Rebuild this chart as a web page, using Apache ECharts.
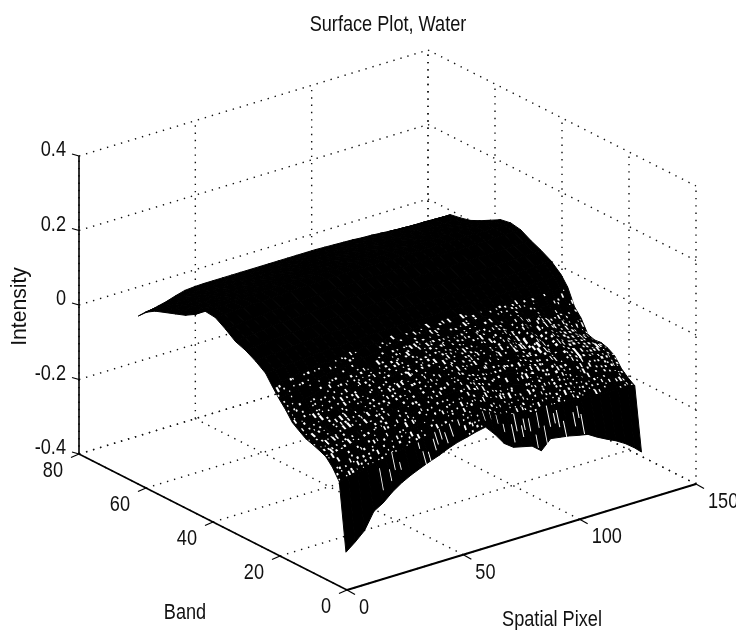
<!DOCTYPE html>
<html><head><meta charset="utf-8">
<style>html,body{margin:0;padding:0;background:#fff}#c{width:736px;height:630px}</style>
<script src="https://cdn.jsdelivr.net/npm/echarts@6/dist/echarts.min.js"></script>
</head><body><div id="c"></div>
<script>
// ---- chart values ----
const titleText = 'Surface Plot, Water';
const pixelTicks = [0, 50, 100, 150];
const bandTicks = [0, 20, 40, 60, 80];
const intensityTicks = [-0.4, -0.2, 0, 0.2, 0.4];
const pixels = [1,5,9,13,17,21,25,29,33,37,41,45,49,53,57,61,65,69,73,77,81,85,89,93,97,101,105,109,113,117,121,125,128];
const bands = [1,3,5,7,9,11,13,15,17,19,21,23,25,28,31,34,37,40,43,46,49,52,55,58,61,63];
const band01 = [-.305,-.285,-.262,-.218,-.203,-.181,-.164,-.151,-.140,-.130,-.121,-.110,-.101,-.095,-.088,-.083,-.110,-.142,-.160,-.166,-.172,-.192,-.167,-.171,-.175,-.181,-.186,-.201,-.214,-.226,-.241,-.260,-.277];
const band03 = [-.125,-.121,-.116,-.109,-.105,-.098,-.094,-.087,-.082,-.075,-.071,-.063,-.060,-.052,-.049,-.045,-.058,-.072,-.083,-.088,-.091,-.098,-.089,-.094,-.097,-.093,-.101,-.099,-.104,-.102,-.107,-.104,-.108];
const band05 = [-.096,-.092,-.090,-.083,-.079,-.074,-.067,-.064,-.056,-.052,-.044,-.041,-.033,-.031,-.024,-.022,-.030,-.043,-.052,-.059,-.058,-.066,-.061,-.067,-.070,-.066,-.074,-.072,-.079,-.080,-.086,-.091,-.096];
const band07 = [-.076,-.074,-.068,-.063,-.056,-.052,-.044,-.041,-.033,-.030,-.023,-.020,-.012,-.010,-.003,-.002,-.008,-.020,-.029,-.034,-.033,-.040,-.036,-.043,-.046,-.041,-.048,-.047,-.056,-.060,-.066,-.072,-.080];
const band09 = [-.068,-.063,-.058,-.050,-.046,-.038,-.033,-.027,-.021,-.015,-.010,-.004,.001,.006,.011,.014,.008,.001,-.006,-.012,-.010,-.018,-.012,-.020,-.025,-.018,-.030,-.025,-.034,-.036,-.044,-.047,-.055];
const band11 = [-.061,-.054,-.048,-.040,-.035,-.027,-.022,-.014,-.009,-.002,.004,.009,.015,.019,.025,.028,.024,.016,.012,.005,.008,.000,.006,-.003,-.010,-.002,-.018,-.010,-.021,-.024,-.031,-.038,-.044];
const band13 = [-.055,-.046,-.038,-.030,-.023,-.016,-.009,-.002,.004,.011,.017,.022,.028,.033,.038,.042,.037,.031,.026,.020,.024,.015,.022,.010,.000,.012,-.008,.003,-.010,-.014,-.022,-.030,-.038];
const band15 = [-.043,-.034,-.025,-.018,-.010,-.003,.004,.010,.017,.023,.029,.034,.039,.044,.049,.052,.049,.044,.038,.034,.037,.030,.036,.024,.012,.028,.006,.018,.004,-.004,-.014,-.026,-.040];
const band17 = [-.030,-.020,-.012,-.004,.004,.010,.016,.023,.028,.034,.039,.044,.049,.053,.058,.061,.059,.054,.050,.047,.050,.044,.050,.040,.028,.042,.022,.032,.018,.008,-.002,-.018,-.034];
const band19 = [-.005,.002,.009,.015,.021,.027,.032,.037,.041,.046,.050,.054,.058,.062,.065,.068,.067,.063,.060,.058,.060,.055,.060,.053,.046,.054,.040,.047,.036,.028,.020,.010,.000];
const band21 = [.016,.022,.028,.033,.038,.042,.046,.049,.053,.056,.060,.063,.066,.069,.071,.073,.073,.070,.068,.067,.068,.065,.068,.063,.059,.063,.054,.058,.051,.045,.039,.031,.022];
const band23 = [.040,.045,.049,.052,.056,.059,.061,.063,.066,.068,.070,.072,.074,.076,.077,.079,.079,.077,.076,.075,.076,.074,.076,.073,.071,.074,.070,.072,.070,.069,.068,.066,.065];
const band25 = [.066,.068,.070,.072,.074,.076,.078,.079,.080,.081,.082,.083,.084,.085,.085,.086,.086,.086,.086,.086,.086,.086,.086,.086,.086,.086,.086,.087,.087,.088,.088,.089,.090];
const band28 = [.085,.088,.090,.092,.094,.096,.097,.099,.100,.101,.102,.103,.104,.105,.105,.106,.106,.106,.106,.106,.106,.106,.106,.107,.107,.107,.108,.108,.109,.110,.111,.112,.113];
const band31 = [.100,.103,.105,.107,.109,.110,.112,.113,.114,.115,.116,.117,.118,.119,.120,.120,.120,.120,.120,.120,.121,.121,.121,.122,.122,.123,.123,.124,.125,.126,.126,.127,.128];
const band34 = [.110,.113,.116,.119,.121,.123,.125,.127,.128,.129,.131,.132,.133,.134,.135,.135,.135,.135,.135,.135,.136,.136,.136,.136,.137,.137,.138,.138,.138,.139,.139,.140,.140];
const band37 = [.130,.132,.134,.136,.138,.140,.142,.143,.144,.145,.146,.147,.148,.149,.150,.150,.150,.150,.151,.151,.151,.152,.152,.152,.153,.153,.153,.154,.154,.154,.155,.155,.155];
const band40 = [.147,.149,.150,.151,.152,.153,.154,.155,.156,.157,.158,.159,.160,.160,.160,.160,.160,.160,.160,.160,.160,.160,.160,.160,.160,.160,.160,.160,.160,.160,.160,.160,.160];
const band43 = [.150,.151,.152,.153,.154,.155,.156,.157,.158,.158,.158,.158,.158,.158,.158,.158,.158,.158,.158,.158,.158,.158,.158,.158,.158,.158,.158,.158,.157,.157,.156,.156,.155];
const band46 = [.128,.131,.134,.136,.138,.140,.142,.143,.144,.145,.145,.145,.145,.145,.145,.145,.145,.145,.145,.145,.145,.145,.145,.144,.144,.144,.143,.143,.142,.142,.141,.141,.140];
const band49 = [.112,.115,.118,.120,.122,.124,.125,.126,.127,.128,.129,.129,.130,.130,.130,.130,.130,.130,.130,.130,.130,.130,.129,.129,.129,.128,.128,.127,.127,.126,.126,.125,.125];
const band52 = [.102,.105,.108,.110,.112,.113,.114,.115,.116,.116,.117,.117,.118,.118,.118,.118,.118,.118,.118,.118,.118,.117,.117,.117,.116,.116,.115,.115,.114,.114,.113,.113,.112];
const band55 = [.092,.095,.097,.099,.100,.101,.102,.103,.103,.104,.104,.105,.105,.105,.105,.105,.105,.105,.105,.105,.105,.105,.105,.105,.105,.105,.105,.105,.105,.105,.105,.105,.105];
const band58 = [.082,.085,.087,.089,.090,.091,.092,.092,.093,.093,.094,.094,.095,.095,.095,.095,.095,.095,.095,.095,.095,.095,.095,.095,.096,.096,.097,.097,.098,.098,.099,.100,.100];
const band61 = [.065,.068,.071,.074,.076,.079,.081,.082,.083,.083,.084,.084,.085,.085,.085,.085,.085,.085,.085,.085,.085,.084,.084,.084,.083,.083,.082,.082,.081,.080,.080,.079,.078];
const band63 = [.046,.050,.056,.062,.070,.077,.079,.080,.080,.080,.080,.080,.080,.080,.080,.080,.080,.080,.080,.080,.079,.078,.077,.076,.074,.073,.071,.069,.067,.065,.063,.061,.060];
const intensity = [band01,band03,band05,band07,band09,band11,band13,band15,band17,band19,band21,band23,band25,band28,band31,band34,band37,band40,band43,band46,band49,band52,band55,band58,band61,band63];

// ---- projection of the plot box (parallel view) ----
const P = {x0:347, y0:590, px:(696-347)/150, py:(484-590)/150, bx:(79-347)/80, by:(454-590)/80, zs:298/0.8, zMin:-0.4};
const project = (p,b,z) => [P.x0 + p*P.px + b*P.bx, P.y0 + p*P.py + b*P.by - (z-P.zMin)*P.zs];
const pMax = pixelTicks[pixelTicks.length-1], bMax = bandTicks[bandTicks.length-1], zMaxV = intensityTicks[intensityTicks.length-1];
const solidFromBand = 23;      // beyond this the printed mesh closes up to solid black
const FONT = '22px "Liberation Sans",sans-serif';
const TEXT_SCALE = 0.825;      // narrow lettering of the original

// dotted grid
const gridLines = [];
bandTicks.forEach(b => { gridLines.push([[0,b,P.zMin],[pMax,b,P.zMin]]); gridLines.push([[pMax,b,P.zMin],[pMax,b,zMaxV]]); });
pixelTicks.forEach(p => { gridLines.push([[p,0,P.zMin],[p,bMax,P.zMin]]); gridLines.push([[p,bMax,P.zMin],[p,bMax,zMaxV]]); });
intensityTicks.forEach(z => { gridLines.push([[0,bMax,z],[pMax,bMax,z]]); gridLines.push([[pMax,bMax,z],[pMax,0,z]]); });

// surface cells, back to front
const cells = [];
for (let j=bands.length-2;j>=0;j--) for (let i=pixels.length-2;i>=0;i--) cells.push([i,j]);

// solid axes, ticks
const axisLines = [
  {from:[0,bMax,P.zMin],to:[0,bMax,zMaxV],w:1.6},
  {from:[0,bMax,P.zMin],to:[0,0,P.zMin],w:1.6},
  {from:[0,0,P.zMin],to:[pMax,0,P.zMin],w:2}
];
const tickMarks = [];
intensityTicks.forEach(z => { const c=project(0,bMax,z); tickMarks.push([c,[c[0]-7,c[1]-2]]); });
bandTicks.forEach(b => { const c=project(0,b,P.zMin); tickMarks.push([c,[c[0]-8,c[1]+3.5]]); });
pixelTicks.forEach(p => { const c=project(p,0,P.zMin); tickMarks.push([c,[c[0]+8,c[1]+4.5]]); });

const labels = [];
labels.push({t:titleText,x:388,y:25,a:'center'});
intensityTicks.forEach(z => { const c=project(0,bMax,z); labels.push({t:String(z),x:c[0]-13,y:c[1]-6,a:'right'}); });
bandTicks.forEach(b => { const c=project(0,b,P.zMin); labels.push({t:String(b),x:c[0]-16,y:c[1]+17,a:'right'}); });
pixelTicks.forEach(p => { const c=project(p,0,P.zMin); labels.push({t:String(p),x:c[0]+12,y:c[1]+18,a:'left'}); });
labels.push({t:'Band',x:185,y:613,a:'center'});
labels.push({t:'Spatial Pixel',x:552,y:620,a:'center'});
labels.push({t:'Intensity',x:20,y:306.5,a:'center',r:Math.PI/2,s:0.96});

const chart = echarts.init(document.getElementById('c'),null,{renderer:'canvas'});
const idx = a => a.map((_,i)=>[i,i]);
// print texture of the closed-up mesh: tiny gaps left between the black lines
const grain = (a,b,c,d) => { const v=Math.sin(a*12.9898+b*78.233+c*37.719+d*11.131)*43758.5453; return v-Math.floor(v); };
const renderCell = (pr,api)=>{
  const [i,j]=cells[pr.dataIndex];
  const pt=(a,b)=>api.coord(project(pixels[a],bands[b],intensity[b][a]));
  const q=[pt(i,j),pt(i+1,j),pt(i+1,j+1),pt(i,j+1)];
  const children=[{type:'polygon',shape:{points:q},style:{fill:'#000',stroke:'#000',lineWidth:1}}];
  if(bands[j]<solidFromBand){
    const u=[0,1].map(k=>(q[1][k]+q[2][k]-q[0][k]-q[3][k])/2);
    const v=[0,1].map(k=>(q[2][k]+q[3][k]-q[0][k]-q[1][k])/2);
    const lu=Math.hypot(u[0],u[1]), lv=Math.hypot(v[0],v[1]);
    const at=(s,t)=>[0,1].map(k=>(1-s)*(1-t)*q[0][k]+s*(1-t)*q[1][k]+s*t*q[2][k]+(1-s)*t*q[3][k]);
    const streak=lv>20, closed=lv>=38;
    const nb=streak?1:Math.max(1,Math.round(lv/5.5));
    const sparse=bands[j]>=19?0.55:0.18;
    const bright=pixels[i]>=92&&pixels[i]<=122&&bands[j]>=7&&bands[j]<=15;
    if(!closed) for(let a=0;a<2;a++) for(let b=0;b<nb;b++){
      const g=[grain(i,j,a,b),grain(j,i,b,a+3),grain(i+5,j+2,a,b+7),grain(i+9,j+4,b,a+1)];
      if(g[0]<(bright?sparse*0.4:sparse)) continue;
      const c=at((a+.5+(g[1]-.5)*.7)/2,(b+.5+(g[2]-.5)*.7)/nb);
      let wPx=(bright?1.4:1.0)+g[3]*1.2, hPx=wPx*(g[2]>.82?2.6:1.15);
      if(streak){wPx=1; hPx=lv*(.25+.45*g[3]);}
      const h=(x,y)=>[c[0]+x*wPx/2/lu*u[0]+y*hPx/2/lv*v[0],c[1]+x*wPx/2/lu*u[1]+y*hPx/2/lv*v[1]];
      children.push({type:'polygon',shape:{points:[h(-1,-1),h(1,-1),h(1,1),h(-1,1)]},style:{fill:'#fff'}});
    }
  }
  return {type:'group',children};
};
chart.setOption({
  animation:false,
  backgroundColor:'#fff',
  grid:{left:0,right:0,top:0,bottom:0},
  xAxis:{type:'value',min:0,max:736,show:false},
  yAxis:{type:'value',min:0,max:630,inverse:true,show:false},
  series:[
    {type:'custom',coordinateSystem:'cartesian2d',silent:true,clip:false,progressive:0,data:idx(gridLines),
     renderItem:(pr,api)=>{const l=gridLines[pr.dataIndex];
       return {type:'line',shape:{x1:api.coord(project(...l[0]))[0],y1:api.coord(project(...l[0]))[1],x2:api.coord(project(...l[1]))[0],y2:api.coord(project(...l[1]))[1]},
       style:{stroke:'#111',lineWidth:1.4,lineDash:[1.4,5.9],fill:null}};}},
    {type:'custom',coordinateSystem:'cartesian2d',silent:true,clip:false,progressive:0,data:cells,renderItem:renderCell},
    {type:'custom',coordinateSystem:'cartesian2d',silent:true,clip:false,progressive:0,data:idx(axisLines),
     renderItem:(pr,api)=>{const l=axisLines[pr.dataIndex];const a=api.coord(project(...l.from)),b=api.coord(project(...l.to));
       return {type:'line',shape:{x1:a[0],y1:a[1],x2:b[0],y2:b[1]},style:{stroke:'#000',lineWidth:l.w,fill:null}};}},
    {type:'custom',coordinateSystem:'cartesian2d',silent:true,clip:false,progressive:0,data:idx(tickMarks),
     renderItem:(pr,api)=>{const l=tickMarks[pr.dataIndex];const a=api.coord(l[0]),b=api.coord(l[1]);
       return {type:'line',shape:{x1:a[0],y1:a[1],x2:b[0],y2:b[1]},style:{stroke:'#000',lineWidth:1.2,fill:null}};}},
    {type:'custom',coordinateSystem:'cartesian2d',silent:true,clip:false,progressive:0,data:idx(labels),
     renderItem:(pr,api)=>{const l=labels[pr.dataIndex];const c=api.coord([l.x,l.y]);
       return {type:'text',x:c[0],y:c[1],rotation:l.r||0,scaleX:l.s||TEXT_SCALE,style:{text:l.t,font:FONT,fill:'#111',align:l.a,verticalAlign:'middle'}};}}
  ]
});
</script></body></html>
